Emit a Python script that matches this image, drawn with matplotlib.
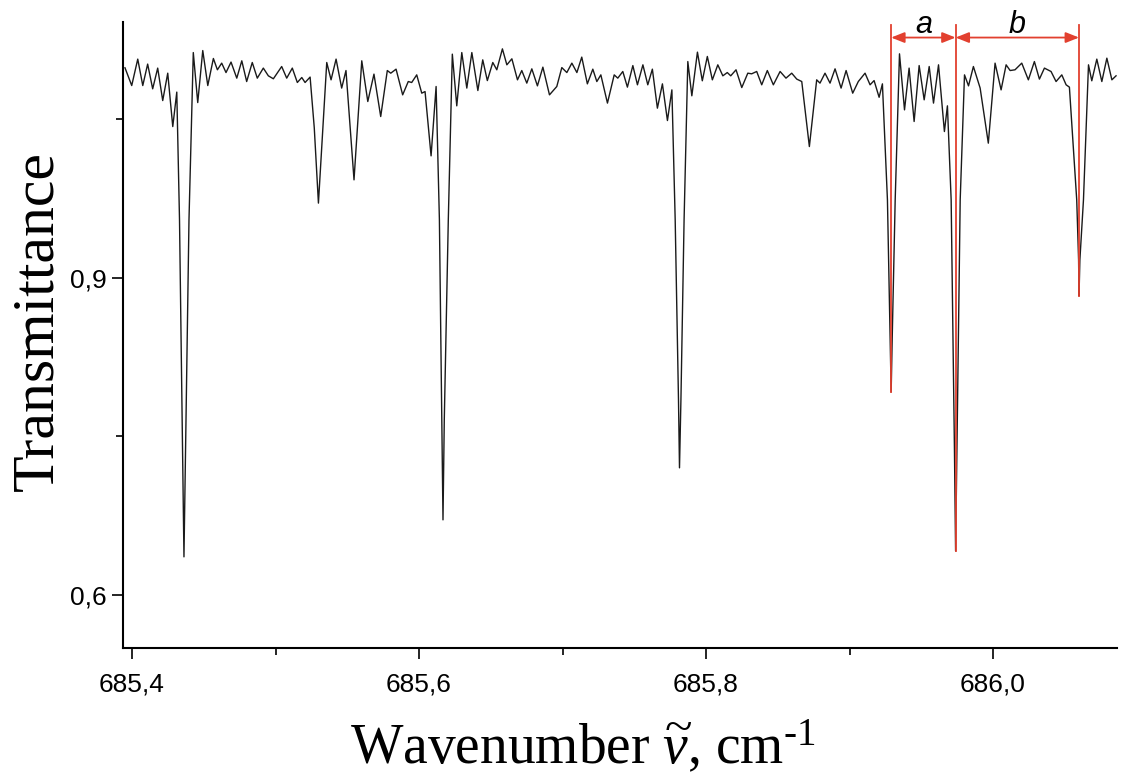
import matplotlib
matplotlib.use("Agg")
import matplotlib.pyplot as plt

# Transmittance spectrum (wavenumber in cm^-1)
wavenumber = [
    685.3951, 685.3998, 685.4040, 685.4075, 685.4109, 685.4144, 685.4179, 685.4214,
    685.4249, 685.4284, 685.4312, 685.4331, 685.4352, 685.4362, 685.4373, 685.4397,
    685.4427, 685.4458, 685.4493, 685.4528, 685.4567, 685.4595, 685.4625, 685.4655,
    685.4690, 685.4730, 685.4765, 685.4799, 685.4838, 685.4873, 685.4915, 685.4950,
    685.4985, 685.5043, 685.5078, 685.5117, 685.5152, 685.5183, 685.5206, 685.5241,
    685.5270, 685.5299, 685.5330, 685.5357, 685.5387, 685.5422, 685.5461, 685.5491,
    685.5547, 685.5601, 685.5643, 685.5686, 685.5733, 685.5779, 685.5803, 685.5840,
    685.5886, 685.5925, 685.5949, 685.5984, 685.6019, 685.6042, 685.6084, 685.6119,
    685.6142, 685.6159, 685.6167, 685.6176, 685.6204, 685.6232, 685.6263, 685.6298,
    685.6333, 685.6368, 685.6410, 685.6444, 685.6476, 685.6514, 685.6542, 685.6581,
    685.6612, 685.6647, 685.6686, 685.6716, 685.6751, 685.6786, 685.6825, 685.6863,
    685.6909, 685.6960, 685.6995, 685.7030, 685.7065, 685.7100, 685.7134, 685.7173,
    685.7211, 685.7239, 685.7267, 685.7313, 685.7360, 685.7385, 685.7420, 685.7452,
    685.7490, 685.7522, 685.7560, 685.7594, 685.7626, 685.7661, 685.7696, 685.7731,
    685.7762, 685.7785, 685.7808, 685.7815, 685.7825, 685.7847, 685.7873, 685.7901,
    685.7940, 685.7974, 685.8009, 685.8044, 685.8082, 685.8117, 685.8148, 685.8172,
    685.8209, 685.8249, 685.8291, 685.8318, 685.8353, 685.8388, 685.8427, 685.8469,
    685.8516, 685.8557, 685.8597, 685.8632, 685.8667, 685.8720, 685.8771, 685.8794,
    685.8829, 685.8864, 685.8899, 685.8941, 685.8976, 685.9022, 685.9061, 685.9108,
    685.9143, 685.9171, 685.9206, 685.9229, 685.9264, 685.9283, 685.9290, 685.9297,
    685.9318, 685.9348, 685.9383, 685.9415, 685.9450, 685.9485, 685.9520, 685.9555,
    685.9585, 685.9620, 685.9661, 685.9682, 685.9708, 685.9731, 685.9739, 685.9748,
    685.9771, 685.9801, 685.9829, 685.9863, 685.9910, 685.9967, 686.0014, 686.0056,
    686.0091, 686.0119, 686.0153, 686.0200, 686.0246, 686.0288, 686.0323, 686.0358,
    686.0404, 686.0439, 686.0479, 686.0509, 686.0532, 686.0583, 686.0596, 686.0599,
    686.0605, 686.0630, 686.0665, 686.0688, 686.0723, 686.0758, 686.0793, 686.0828,
    686.0857,
]
transmittance = [
    1.0987, 1.0819, 1.1069, 1.0819, 1.1022, 1.0788, 1.0984, 1.0677,
    1.0936, 1.0431, 1.0757, 0.9549, 0.7373, 0.6361, 0.7373, 0.9549,
    1.1131, 1.0658, 1.1150, 1.0819, 1.1075, 1.0968, 1.1031, 1.0942,
    1.1041, 1.0889, 1.1053, 1.0857, 1.1037, 1.0889, 1.0984, 1.0911,
    1.0883, 1.0999, 1.0889, 1.0984, 1.0848, 1.0895, 1.0848, 1.0899,
    1.0420, 0.9707, 1.0420, 1.1037, 1.0873, 1.1069, 1.0795, 1.0961,
    0.9927, 1.1053, 1.0668, 1.0927, 1.0526, 1.0961, 1.0936, 1.0974,
    1.0731, 1.0857, 1.0848, 1.0920, 1.0747, 1.0762, 1.0154, 1.0810,
    0.9549, 0.7657, 0.6711, 0.7657, 0.9549, 1.1116, 1.0627, 1.1131,
    1.0795, 1.1131, 1.0772, 1.1062, 1.0866, 1.1037, 1.0968, 1.1166,
    1.1015, 1.1072, 1.0873, 1.0961, 1.0842, 1.0977, 1.0816, 1.0993,
    1.0731, 1.0810, 1.0989, 1.0942, 1.1031, 1.0942, 1.1088, 1.0835,
    1.0974, 1.0857, 1.0920, 1.0653, 1.0920, 1.0889, 1.0952, 1.0804,
    1.1008, 1.0826, 1.1015, 1.0826, 1.0974, 1.0605, 1.0835, 1.0488,
    1.0778, 0.9549, 0.7846, 0.7203, 0.7846, 0.9549, 1.1046, 1.0722,
    1.1135, 1.0864, 1.1094, 1.0873, 1.1015, 1.0911, 1.0942, 1.0911,
    1.0968, 1.0800, 1.0936, 1.0930, 1.0952, 1.0826, 1.0961, 1.0826,
    1.0952, 1.0889, 1.0936, 1.0880, 1.0857, 1.0242, 1.0873, 1.0842,
    1.0936, 1.0842, 1.0977, 1.0795, 1.0961, 1.0747, 1.0857, 1.0936,
    1.0826, 1.0866, 1.0708, 1.0835, 0.9738, 0.8413, 0.7922, 0.8413,
    0.9738, 1.1119, 1.0589, 1.0984, 1.0479, 1.1008, 1.0684, 1.0999,
    1.0653, 1.1015, 1.0384, 1.0627, 0.9738, 0.7373, 0.6417, 0.7373,
    0.9738, 1.0920, 1.0816, 1.0999, 1.0795, 1.0274, 1.1031, 1.0778,
    1.1015, 1.0961, 1.0968, 1.1031, 1.0873, 1.1046, 1.0880, 1.0984,
    1.0952, 1.0857, 1.0920, 1.0826, 1.0804, 0.9738, 0.9170, 0.8830,
    0.9170, 0.9738, 1.1015, 1.0864, 1.1069, 1.0857, 1.1078, 1.0873,
    1.0911,
]

# Lines marked with the a / b spacing brackets (position, depth of the line)
marked_pos = [685.9290, 685.9739, 686.0599]
marked_depth = [0.7922, 0.6417, 0.8830]
bracket_labels = ["a", "b"]

xticks = [685.4, 685.6, 685.8, 686.0]
xminor = [685.5, 685.7, 685.9]
yticks = [0.6, 0.9]
yminor = [0.75, 1.05]

red = "#e2402f"

plt.rcParams["mathtext.fontset"] = "custom"
plt.rcParams["mathtext.rm"] = "Liberation Serif"
plt.rcParams["mathtext.it"] = "Liberation Serif:italic"

fig = plt.figure(figsize=(11.23, 7.75), dpi=100)
ax = fig.add_axes([0.1095, 0.1639, 0.8852, 0.8077])

ax.plot(wavenumber, transmittance, color="#1a1a1a", linewidth=1.0,
        solid_joinstyle="round")

# red markers on the three lines and the double arrows between them
top = 1.1393
arrow_y = 1.1273
for pos, depth in zip(marked_pos, marked_depth):
    ax.plot([pos, pos], [depth, top], color=red, linewidth=1.3, zorder=3)
for i, lab in enumerate(bracket_labels):
    x0, x1 = marked_pos[i], marked_pos[i + 1]
    ax.annotate("", xy=(x1, arrow_y), xytext=(x0, arrow_y),
                arrowprops=dict(arrowstyle="<|-|>,head_length=0.5,head_width=0.2",
                                color=red, lw=1.3, shrinkA=0, shrinkB=0,
                                mutation_scale=16))
    ax.text((x0 + x1) / 2, 1.1318, lab, ha="center", va="baseline",
            fontsize=22, style="italic", family="Liberation Sans",
            clip_on=False)

ax.set_xlim(685.3937, 686.0864)
ax.set_ylim(0.5499, 1.142)

ax.spines["top"].set_visible(False)
ax.spines["right"].set_visible(False)
for s in ["left", "bottom"]:
    ax.spines[s].set_linewidth(1.5)

ax.set_xticks(xticks)
ax.set_xticklabels([f"{t:.1f}".replace(".", ",") for t in xticks])
ax.set_xticks(xminor, minor=True)
ax.set_yticks(yticks)
ax.set_yticklabels([f"{t:.1f}".replace(".", ",") for t in yticks])
ax.set_yticks(yminor, minor=True)
ax.tick_params(which="major", length=8, width=1.2, labelsize=19)
ax.tick_params(axis="x", which="major", pad=10)
ax.tick_params(axis="y", which="major", pad=3.5)
ax.tick_params(which="minor", length=5, width=1.2)
for lbl in ax.get_xticklabels() + ax.get_yticklabels():
    lbl.set_family("Liberation Sans")

ax.set_xlabel(r"Wavenumber $\widetilde{v}$, cm$^{\text{-}1}$",
              family="Liberation Serif", fontsize=40)
ax.xaxis.set_label_coords(0.463, -0.1853)
ax.xaxis.label.set_va("baseline")

ax.set_ylabel("Transmittance", family="Liberation Serif", fontsize=43)
ax.yaxis.set_label_coords(-0.0714, 0.522)
ax.yaxis.label.set_va("baseline")
ax.yaxis.label.set_rotation_mode("anchor")

fig.savefig("out.png", dpi=100)
